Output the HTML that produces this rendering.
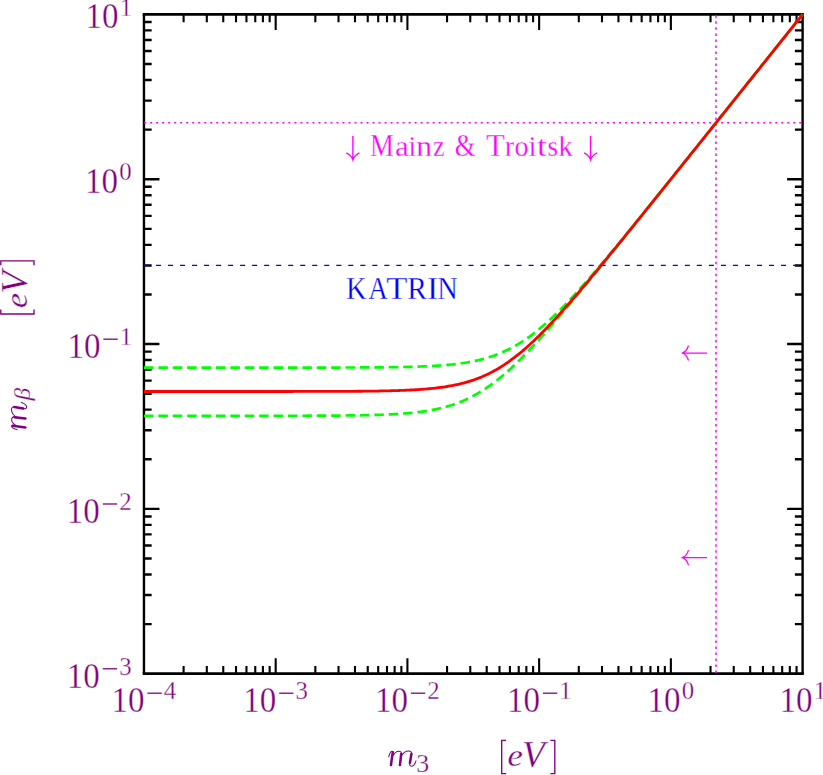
<!DOCTYPE html>
<html><head><meta charset="utf-8"><title>m_beta vs m_3</title>
<style>
html,body{margin:0;padding:0;background:#fff;}
body{width:823px;height:775px;overflow:hidden;}
svg{display:block;}
text{font-family:"Liberation Serif",serif;stroke:#fff;stroke-width:0.3px;}
</style></head><body>
<svg width="823" height="775" viewBox="0 0 823 775">
<rect x="0" y="0" width="823" height="775" fill="#ffffff"/>
<path d="M183.60 673.70V666.00M183.60 14.45V22.15M206.80 673.70V666.00M206.80 14.45V22.15M223.26 673.70V666.00M223.26 14.45V22.15M236.03 673.70V666.00M236.03 14.45V22.15M246.46 673.70V666.00M246.46 14.45V22.15M255.27 673.70V666.00M255.27 14.45V22.15M262.91 673.70V666.00M262.91 14.45V22.15M269.65 673.70V666.00M269.65 14.45V22.15M275.68 673.70V658.20M275.68 14.45V29.95M315.33 673.70V666.00M315.33 14.45V22.15M338.53 673.70V666.00M338.53 14.45V22.15M354.99 673.70V666.00M354.99 14.45V22.15M367.76 673.70V666.00M367.76 14.45V22.15M378.19 673.70V666.00M378.19 14.45V22.15M387.00 673.70V666.00M387.00 14.45V22.15M394.64 673.70V666.00M394.64 14.45V22.15M401.38 673.70V666.00M401.38 14.45V22.15M407.41 673.70V658.20M407.41 14.45V29.95M447.06 673.70V666.00M447.06 14.45V22.15M470.26 673.70V666.00M470.26 14.45V22.15M486.72 673.70V666.00M486.72 14.45V22.15M499.49 673.70V666.00M499.49 14.45V22.15M509.92 673.70V666.00M509.92 14.45V22.15M518.73 673.70V666.00M518.73 14.45V22.15M526.37 673.70V666.00M526.37 14.45V22.15M533.11 673.70V666.00M533.11 14.45V22.15M539.14 673.70V658.20M539.14 14.45V29.95M578.79 673.70V666.00M578.79 14.45V22.15M601.99 673.70V666.00M601.99 14.45V22.15M618.45 673.70V666.00M618.45 14.45V22.15M631.22 673.70V666.00M631.22 14.45V22.15M641.65 673.70V666.00M641.65 14.45V22.15M650.46 673.70V666.00M650.46 14.45V22.15M658.10 673.70V666.00M658.10 14.45V22.15M664.84 673.70V666.00M664.84 14.45V22.15M670.87 673.70V658.20M670.87 14.45V29.95M710.52 673.70V666.00M710.52 14.45V22.15M733.72 673.70V666.00M733.72 14.45V22.15M750.18 673.70V666.00M750.18 14.45V22.15M762.95 673.70V666.00M762.95 14.45V22.15M773.38 673.70V666.00M773.38 14.45V22.15M782.19 673.70V666.00M782.19 14.45V22.15M789.83 673.70V666.00M789.83 14.45V22.15M796.57 673.70V666.00M796.57 14.45V22.15" fill="none" stroke="#000" stroke-width="2.1"/>
<path d="M143.95 624.09H151.65M802.60 624.09H794.90M143.95 595.06H151.65M802.60 595.06H794.90M143.95 574.47H151.65M802.60 574.47H794.90M143.95 558.50H151.65M802.60 558.50H794.90M143.95 545.45H151.65M802.60 545.45H794.90M143.95 534.42H151.65M802.60 534.42H794.90M143.95 524.86H151.65M802.60 524.86H794.90M143.95 516.43H151.65M802.60 516.43H794.90M143.95 508.89H159.45M802.60 508.89H787.10M143.95 459.27H151.65M802.60 459.27H794.90M143.95 430.25H151.65M802.60 430.25H794.90M143.95 409.66H151.65M802.60 409.66H794.90M143.95 393.69H151.65M802.60 393.69H794.90M143.95 380.64H151.65M802.60 380.64H794.90M143.95 369.60H151.65M802.60 369.60H794.90M143.95 360.05H151.65M802.60 360.05H794.90M143.95 351.62H151.65M802.60 351.62H794.90M143.95 344.07H159.45M802.60 344.07H787.10M143.95 294.46H151.65M802.60 294.46H794.90M143.95 265.44H151.65M802.60 265.44H794.90M143.95 244.85H151.65M802.60 244.85H794.90M143.95 228.88H151.65M802.60 228.88H794.90M143.95 215.83H151.65M802.60 215.83H794.90M143.95 204.79H151.65M802.60 204.79H794.90M143.95 195.23H151.65M802.60 195.23H794.90M143.95 186.80H151.65M802.60 186.80H794.90M143.95 179.26H159.45M802.60 179.26H787.10M143.95 129.65H151.65M802.60 129.65H794.90M143.95 100.63H151.65M802.60 100.63H794.90M143.95 80.04H151.65M802.60 80.04H794.90M143.95 64.06H151.65M802.60 64.06H794.90M143.95 51.01H151.65M802.60 51.01H794.90M143.95 39.98H151.65M802.60 39.98H794.90M143.95 30.42H151.65M802.60 30.42H794.90M143.95 21.99H151.65M802.60 21.99H794.90" fill="none" stroke="#000" stroke-width="2.4"/>
<path d="M142.75 14.45H803.80M142.75 673.70H803.80" fill="none" stroke="#000" stroke-width="2.75"/>
<path d="M143.95 14.45V673.70M802.60 14.45V673.70" fill="none" stroke="#000" stroke-width="2.4"/>
<path d="M143.95 122.83H802.60" fill="none" stroke="#ff00ff" stroke-width="1.45" stroke-dasharray="2 4.01" stroke-dashoffset="-0.2"/>
<path d="M715.98 14.45V673.70" fill="none" stroke="#ff00ff" stroke-width="1.5" stroke-dasharray="2.5 3.51" stroke-dashoffset="-0.9"/>
<path d="M143.95 265.44H802.60" fill="none" stroke="#0000ff" stroke-width="1.35" stroke-dasharray="5 7.02"/>
<g fill="none">
<path d="M143.95 367.60 L145.60 367.60 L147.24 367.60 L148.89 367.60 L150.54 367.60 L152.18 367.60 L153.83 367.60 L155.48 367.60 L157.12 367.60 L158.77 367.60 L160.42 367.60 L162.06 367.60 L163.71 367.60 L165.36 367.60 L167.00 367.60 L168.65 367.60 L170.30 367.60 L171.94 367.60 L173.59 367.60 L175.24 367.60 L176.88 367.60 L178.53 367.60 L180.18 367.60 L181.82 367.60 L183.47 367.60 L185.12 367.60 L186.76 367.60 L188.41 367.60 L190.06 367.60 L191.70 367.60 L193.35 367.60 L195.00 367.60 L196.64 367.60 L198.29 367.60 L199.94 367.60 L201.58 367.60 L203.23 367.60 L204.88 367.60 L206.52 367.60 L208.17 367.60 L209.81 367.60 L211.46 367.60 L213.11 367.60 L214.75 367.60 L216.40 367.60 L218.05 367.60 L219.69 367.60 L221.34 367.60 L222.99 367.60 L224.63 367.60 L226.28 367.60 L227.93 367.60 L229.57 367.60 L231.22 367.60 L232.87 367.60 L234.51 367.60 L236.16 367.60 L237.81 367.60 L239.45 367.60 L241.10 367.60 L242.75 367.60 L244.39 367.60 L246.04 367.60 L247.69 367.60 L249.33 367.60 L250.98 367.60 L252.63 367.60 L254.27 367.60 L255.92 367.60 L257.57 367.60 L259.21 367.60 L260.86 367.60 L262.51 367.60 L264.15 367.60 L265.80 367.60 L267.45 367.59 L269.09 367.59 L270.74 367.59 L272.39 367.59 L274.03 367.59 L275.68 367.59 L277.33 367.59 L278.97 367.59 L280.62 367.59 L282.27 367.59 L283.91 367.59 L285.56 367.59 L287.21 367.59 L288.85 367.59 L290.50 367.59 L292.15 367.59 L293.79 367.59 L295.44 367.59 L297.09 367.59 L298.73 367.58 L300.38 367.58 L302.03 367.58 L303.67 367.58 L305.32 367.58 L306.97 367.58 L308.61 367.58 L310.26 367.58 L311.91 367.58 L313.55 367.57 L315.20 367.57 L316.85 367.57 L318.49 367.57 L320.14 367.57 L321.79 367.57 L323.43 367.56 L325.08 367.56 L326.73 367.56 L328.37 367.56 L330.02 367.55 L331.67 367.55 L333.31 367.55 L334.96 367.55 L336.61 367.54 L338.25 367.54 L339.90 367.53 L341.55 367.53 L343.19 367.53 L344.84 367.52 L346.48 367.52 L348.13 367.51 L349.78 367.51 L351.42 367.50 L353.07 367.50 L354.72 367.49 L356.36 367.48 L358.01 367.48 L359.66 367.47 L361.30 367.46 L362.95 367.45 L364.60 367.45 L366.24 367.44 L367.89 367.43 L369.54 367.42 L371.18 367.41 L372.83 367.39 L374.48 367.38 L376.12 367.37 L377.77 367.36 L379.42 367.34 L381.06 367.33 L382.71 367.31 L384.36 367.29 L386.00 367.27 L387.65 367.26 L389.30 367.24 L390.94 367.21 L392.59 367.19 L394.24 367.17 L395.88 367.14 L397.53 367.11 L399.18 367.09 L400.82 367.06 L402.47 367.02 L404.12 366.99 L405.76 366.95 L407.41 366.92 L409.06 366.88 L410.70 366.83 L412.35 366.79 L414.00 366.74 L415.64 366.69 L417.29 366.64 L418.94 366.58 L420.58 366.52 L422.23 366.46 L423.88 366.39 L425.52 366.32 L427.17 366.25 L428.82 366.17 L430.46 366.09 L432.11 366.00 L433.76 365.91 L435.40 365.81 L437.05 365.70 L438.70 365.60 L440.34 365.48 L441.99 365.36 L443.64 365.23 L445.28 365.09 L446.93 364.95 L448.58 364.80 L450.22 364.64 L451.87 364.47 L453.52 364.30 L455.16 364.11 L456.81 363.91 L458.46 363.71 L460.10 363.49 L461.75 363.26 L463.40 363.02 L465.04 362.76 L466.69 362.50 L468.34 362.22 L469.98 361.92 L471.63 361.61 L473.28 361.29 L474.92 360.94 L476.57 360.59 L478.21 360.21 L479.86 359.82 L481.51 359.41 L483.15 358.97 L484.80 358.52 L486.45 358.05 L488.09 357.56 L489.74 357.04 L491.39 356.50 L493.03 355.94 L494.68 355.36 L496.33 354.75 L497.97 354.12 L499.62 353.46 L501.27 352.77 L502.91 352.06 L504.56 351.32 L506.21 350.55 L507.85 349.76 L509.50 348.93 L511.15 348.08 L512.79 347.20 L514.44 346.29 L516.09 345.35 L517.73 344.38 L519.38 343.39 L521.03 342.36 L522.67 341.30 L524.32 340.21 L525.97 339.10 L527.61 337.95 L529.26 336.78 L530.91 335.57 L532.55 334.34 L534.20 333.08 L535.85 331.79 L537.49 330.48 L539.14 329.13 L540.79 327.76 L542.43 326.37 L544.08 324.94 L545.73 323.50 L547.37 322.02 L549.02 320.53 L550.67 319.01 L552.31 317.47 L553.96 315.91 L555.61 314.32 L557.25 312.72 L558.90 311.09 L560.55 309.44 L562.19 307.78 L563.84 306.10 L565.49 304.40 L567.13 302.68 L568.78 300.95 L570.43 299.20 L572.07 297.44 L573.72 295.66 L575.37 293.87 L577.01 292.07 L578.66 290.25 L580.31 288.42 L581.95 286.58 L583.60 284.73 L585.25 282.87 L586.89 281.00 L588.54 279.12 L590.19 277.22 L591.83 275.33 L593.48 273.42 L595.13 271.50 L596.77 269.58 L598.42 267.65 L600.07 265.71 L601.71 263.77 L603.36 261.82 L605.01 259.86 L606.65 257.90 L608.30 255.93 L609.94 253.96 L611.59 251.98 L613.24 250.00 L614.88 248.02 L616.53 246.03 L618.18 244.04 L619.82 242.04 L621.47 240.04 L623.12 238.04 L624.76 236.03 L626.41 234.02 L628.06 232.01 L629.70 229.99 L631.35 227.98 L633.00 225.96 L634.64 223.93 L636.29 221.91 L637.94 219.88 L639.58 217.86 L641.23 215.83 L642.88 213.80 L644.52 211.76 L646.17 209.73 L647.82 207.69 L649.46 205.65 L651.11 203.62 L652.76 201.58 L654.40 199.54 L656.05 197.49 L657.70 195.45 L659.34 193.41 L660.99 191.36 L662.64 189.32 L664.28 187.27 L665.93 185.22 L667.58 183.18 L669.22 181.13 L670.87 179.08 L672.52 177.03 L674.16 174.98 L675.81 172.93 L677.46 170.87 L679.10 168.82 L680.75 166.77 L682.40 164.72 L684.04 162.66 L685.69 160.61 L687.34 158.56 L688.98 156.50 L690.63 154.45 L692.28 152.39 L693.92 150.34 L695.57 148.28 L697.22 146.23 L698.86 144.17 L700.51 142.11 L702.16 140.06 L703.80 138.00 L705.45 135.94 L707.10 133.89 L708.74 131.83 L710.39 129.77 L712.04 127.71 L713.68 125.66 L715.33 123.60 L716.98 121.54 L718.62 119.48 L720.27 117.42 L721.92 115.37 L723.56 113.31 L725.21 111.25 L726.86 109.19 L728.50 107.13 L730.15 105.07 L731.80 103.01 L733.44 100.96 L735.09 98.90 L736.74 96.84 L738.38 94.78 L740.03 92.72 L741.67 90.66 L743.32 88.60 L744.97 86.54 L746.61 84.48 L748.26 82.42 L749.91 80.36 L751.55 78.30 L753.20 76.24 L754.85 74.18 L756.49 72.13 L758.14 70.07 L759.79 68.01 L761.43 65.95 L763.08 63.89 L764.73 61.83 L766.37 59.77 L768.02 57.71 L769.67 55.65 L771.31 53.59 L772.96 51.53 L774.61 49.47 L776.25 47.41 L777.90 45.35 L779.55 43.29 L781.19 41.23 L782.84 39.17 L784.49 37.11 L786.13 35.05 L787.78 32.99 L789.43 30.93 L791.07 28.87 L792.72 26.81 L794.37 24.75 L796.01 22.69 L797.66 20.63 L799.31 18.57 L800.95 16.51 L802.60 14.45" stroke="#00ff00" stroke-width="2.7" stroke-dasharray="9.5 4.9"/>
<path d="M143.95 415.80 L145.60 415.80 L147.24 415.80 L148.89 415.80 L150.54 415.80 L152.18 415.80 L153.83 415.80 L155.48 415.80 L157.12 415.80 L158.77 415.80 L160.42 415.80 L162.06 415.80 L163.71 415.80 L165.36 415.80 L167.00 415.80 L168.65 415.80 L170.30 415.80 L171.94 415.80 L173.59 415.80 L175.24 415.80 L176.88 415.80 L178.53 415.80 L180.18 415.80 L181.82 415.80 L183.47 415.80 L185.12 415.80 L186.76 415.80 L188.41 415.80 L190.06 415.80 L191.70 415.80 L193.35 415.80 L195.00 415.80 L196.64 415.80 L198.29 415.80 L199.94 415.80 L201.58 415.80 L203.23 415.80 L204.88 415.80 L206.52 415.80 L208.17 415.80 L209.81 415.80 L211.46 415.80 L213.11 415.80 L214.75 415.80 L216.40 415.80 L218.05 415.80 L219.69 415.80 L221.34 415.80 L222.99 415.80 L224.63 415.80 L226.28 415.80 L227.93 415.79 L229.57 415.79 L231.22 415.79 L232.87 415.79 L234.51 415.79 L236.16 415.79 L237.81 415.79 L239.45 415.79 L241.10 415.79 L242.75 415.79 L244.39 415.79 L246.04 415.79 L247.69 415.79 L249.33 415.79 L250.98 415.79 L252.63 415.79 L254.27 415.79 L255.92 415.79 L257.57 415.79 L259.21 415.79 L260.86 415.78 L262.51 415.78 L264.15 415.78 L265.80 415.78 L267.45 415.78 L269.09 415.78 L270.74 415.78 L272.39 415.78 L274.03 415.77 L275.68 415.77 L277.33 415.77 L278.97 415.77 L280.62 415.77 L282.27 415.77 L283.91 415.76 L285.56 415.76 L287.21 415.76 L288.85 415.76 L290.50 415.76 L292.15 415.75 L293.79 415.75 L295.44 415.75 L297.09 415.74 L298.73 415.74 L300.38 415.74 L302.03 415.73 L303.67 415.73 L305.32 415.73 L306.97 415.72 L308.61 415.72 L310.26 415.71 L311.91 415.71 L313.55 415.70 L315.20 415.69 L316.85 415.69 L318.49 415.68 L320.14 415.67 L321.79 415.67 L323.43 415.66 L325.08 415.65 L326.73 415.64 L328.37 415.63 L330.02 415.62 L331.67 415.61 L333.31 415.60 L334.96 415.59 L336.61 415.58 L338.25 415.56 L339.90 415.55 L341.55 415.54 L343.19 415.52 L344.84 415.50 L346.48 415.49 L348.13 415.47 L349.78 415.45 L351.42 415.43 L353.07 415.40 L354.72 415.38 L356.36 415.36 L358.01 415.33 L359.66 415.30 L361.30 415.27 L362.95 415.24 L364.60 415.21 L366.24 415.18 L367.89 415.14 L369.54 415.10 L371.18 415.06 L372.83 415.02 L374.48 414.97 L376.12 414.92 L377.77 414.87 L379.42 414.82 L381.06 414.76 L382.71 414.70 L384.36 414.63 L386.00 414.57 L387.65 414.49 L389.30 414.42 L390.94 414.34 L392.59 414.25 L394.24 414.16 L395.88 414.07 L397.53 413.97 L399.18 413.86 L400.82 413.75 L402.47 413.63 L404.12 413.51 L405.76 413.38 L407.41 413.24 L409.06 413.09 L410.70 412.94 L412.35 412.78 L414.00 412.60 L415.64 412.42 L417.29 412.23 L418.94 412.03 L420.58 411.82 L422.23 411.60 L423.88 411.36 L425.52 411.12 L427.17 410.86 L428.82 410.59 L430.46 410.30 L432.11 410.00 L433.76 409.68 L435.40 409.35 L437.05 409.00 L438.70 408.64 L440.34 408.26 L441.99 407.86 L443.64 407.44 L445.28 407.00 L446.93 406.54 L448.58 406.06 L450.22 405.56 L451.87 405.03 L453.52 404.48 L455.16 403.91 L456.81 403.32 L458.46 402.70 L460.10 402.06 L461.75 401.39 L463.40 400.69 L465.04 399.97 L466.69 399.22 L468.34 398.44 L469.98 397.63 L471.63 396.80 L473.28 395.94 L474.92 395.04 L476.57 394.12 L478.21 393.17 L479.86 392.19 L481.51 391.18 L483.15 390.14 L484.80 389.07 L486.45 387.98 L488.09 386.85 L489.74 385.69 L491.39 384.50 L493.03 383.29 L494.68 382.04 L496.33 380.77 L497.97 379.47 L499.62 378.15 L501.27 376.79 L502.91 375.41 L504.56 374.00 L506.21 372.57 L507.85 371.12 L509.50 369.63 L511.15 368.13 L512.79 366.60 L514.44 365.05 L516.09 363.48 L517.73 361.89 L519.38 360.27 L521.03 358.64 L522.67 356.99 L524.32 355.32 L525.97 353.63 L527.61 351.92 L529.26 350.20 L530.91 348.46 L532.55 346.71 L534.20 344.94 L535.85 343.16 L537.49 341.36 L539.14 339.55 L540.79 337.73 L542.43 335.89 L544.08 334.05 L545.73 332.19 L547.37 330.33 L549.02 328.45 L550.67 326.57 L552.31 324.67 L553.96 322.77 L555.61 320.86 L557.25 318.94 L558.90 317.01 L560.55 315.08 L562.19 313.14 L563.84 311.19 L565.49 309.24 L567.13 307.28 L568.78 305.32 L570.43 303.35 L572.07 301.38 L573.72 299.40 L575.37 297.42 L577.01 295.43 L578.66 293.44 L580.31 291.45 L581.95 289.45 L583.60 287.45 L585.25 285.44 L586.89 283.43 L588.54 281.42 L590.19 279.41 L591.83 277.39 L593.48 275.38 L595.13 273.35 L596.77 271.33 L598.42 269.31 L600.07 267.28 L601.71 265.25 L603.36 263.22 L605.01 261.19 L606.65 259.16 L608.30 257.12 L609.94 255.08 L611.59 253.05 L613.24 251.01 L614.88 248.97 L616.53 246.93 L618.18 244.88 L619.82 242.84 L621.47 240.80 L623.12 238.75 L624.76 236.71 L626.41 234.66 L628.06 232.61 L629.70 230.56 L631.35 228.51 L633.00 226.47 L634.64 224.42 L636.29 222.36 L637.94 220.31 L639.58 218.26 L641.23 216.21 L642.88 214.16 L644.52 212.10 L646.17 210.05 L647.82 208.00 L649.46 205.94 L651.11 203.89 L652.76 201.83 L654.40 199.78 L656.05 197.72 L657.70 195.67 L659.34 193.61 L660.99 191.56 L662.64 189.50 L664.28 187.44 L665.93 185.39 L667.58 183.33 L669.22 181.27 L670.87 179.21 L672.52 177.16 L674.16 175.10 L675.81 173.04 L677.46 170.98 L679.10 168.93 L680.75 166.87 L682.40 164.81 L684.04 162.75 L685.69 160.69 L687.34 158.63 L688.98 156.58 L690.63 154.52 L692.28 152.46 L693.92 150.40 L695.57 148.34 L697.22 146.28 L698.86 144.22 L700.51 142.16 L702.16 140.10 L703.80 138.04 L705.45 135.98 L707.10 133.93 L708.74 131.87 L710.39 129.81 L712.04 127.75 L713.68 125.69 L715.33 123.63 L716.98 121.57 L718.62 119.51 L720.27 117.45 L721.92 115.39 L723.56 113.33 L725.21 111.27 L726.86 109.21 L728.50 107.15 L730.15 105.09 L731.80 103.03 L733.44 100.97 L735.09 98.91 L736.74 96.85 L738.38 94.79 L740.03 92.73 L741.67 90.67 L743.32 88.61 L744.97 86.55 L746.61 84.49 L748.26 82.43 L749.91 80.37 L751.55 78.31 L753.20 76.25 L754.85 74.19 L756.49 72.13 L758.14 70.07 L759.79 68.01 L761.43 65.95 L763.08 63.89 L764.73 61.83 L766.37 59.77 L768.02 57.71 L769.67 55.65 L771.31 53.59 L772.96 51.53 L774.61 49.47 L776.25 47.41 L777.90 45.35 L779.55 43.29 L781.19 41.23 L782.84 39.17 L784.49 37.11 L786.13 35.05 L787.78 32.99 L789.43 30.93 L791.07 28.87 L792.72 26.81 L794.37 24.75 L796.01 22.69 L797.66 20.63 L799.31 18.57 L800.95 16.51 L802.60 14.45" stroke="#00ff00" stroke-width="2.7" stroke-dasharray="9.5 4.9"/>
<path d="M143.95 391.50 L145.60 391.50 L147.24 391.50 L148.89 391.50 L150.54 391.50 L152.18 391.50 L153.83 391.50 L155.48 391.50 L157.12 391.50 L158.77 391.50 L160.42 391.50 L162.06 391.50 L163.71 391.50 L165.36 391.50 L167.00 391.50 L168.65 391.50 L170.30 391.50 L171.94 391.50 L173.59 391.50 L175.24 391.50 L176.88 391.50 L178.53 391.50 L180.18 391.50 L181.82 391.50 L183.47 391.50 L185.12 391.50 L186.76 391.50 L188.41 391.50 L190.06 391.50 L191.70 391.50 L193.35 391.50 L195.00 391.50 L196.64 391.50 L198.29 391.50 L199.94 391.50 L201.58 391.50 L203.23 391.50 L204.88 391.50 L206.52 391.50 L208.17 391.50 L209.81 391.50 L211.46 391.50 L213.11 391.50 L214.75 391.50 L216.40 391.50 L218.05 391.50 L219.69 391.50 L221.34 391.50 L222.99 391.50 L224.63 391.50 L226.28 391.50 L227.93 391.50 L229.57 391.50 L231.22 391.50 L232.87 391.50 L234.51 391.50 L236.16 391.50 L237.81 391.50 L239.45 391.50 L241.10 391.50 L242.75 391.50 L244.39 391.50 L246.04 391.50 L247.69 391.49 L249.33 391.49 L250.98 391.49 L252.63 391.49 L254.27 391.49 L255.92 391.49 L257.57 391.49 L259.21 391.49 L260.86 391.49 L262.51 391.49 L264.15 391.49 L265.80 391.49 L267.45 391.49 L269.09 391.49 L270.74 391.49 L272.39 391.49 L274.03 391.49 L275.68 391.49 L277.33 391.49 L278.97 391.48 L280.62 391.48 L282.27 391.48 L283.91 391.48 L285.56 391.48 L287.21 391.48 L288.85 391.48 L290.50 391.48 L292.15 391.48 L293.79 391.47 L295.44 391.47 L297.09 391.47 L298.73 391.47 L300.38 391.47 L302.03 391.47 L303.67 391.46 L305.32 391.46 L306.97 391.46 L308.61 391.46 L310.26 391.45 L311.91 391.45 L313.55 391.45 L315.20 391.45 L316.85 391.44 L318.49 391.44 L320.14 391.44 L321.79 391.43 L323.43 391.43 L325.08 391.42 L326.73 391.42 L328.37 391.42 L330.02 391.41 L331.67 391.40 L333.31 391.40 L334.96 391.39 L336.61 391.39 L338.25 391.38 L339.90 391.37 L341.55 391.37 L343.19 391.36 L344.84 391.35 L346.48 391.34 L348.13 391.33 L349.78 391.32 L351.42 391.31 L353.07 391.30 L354.72 391.29 L356.36 391.27 L358.01 391.26 L359.66 391.25 L361.30 391.23 L362.95 391.22 L364.60 391.20 L366.24 391.18 L367.89 391.16 L369.54 391.14 L371.18 391.12 L372.83 391.10 L374.48 391.08 L376.12 391.05 L377.77 391.03 L379.42 391.00 L381.06 390.97 L382.71 390.94 L384.36 390.90 L386.00 390.87 L387.65 390.83 L389.30 390.79 L390.94 390.75 L392.59 390.71 L394.24 390.66 L395.88 390.61 L397.53 390.56 L399.18 390.50 L400.82 390.45 L402.47 390.38 L404.12 390.32 L405.76 390.25 L407.41 390.18 L409.06 390.10 L410.70 390.02 L412.35 389.93 L414.00 389.84 L415.64 389.75 L417.29 389.65 L418.94 389.54 L420.58 389.43 L422.23 389.31 L423.88 389.18 L425.52 389.05 L427.17 388.91 L428.82 388.76 L430.46 388.61 L432.11 388.44 L433.76 388.27 L435.40 388.09 L437.05 387.89 L438.70 387.69 L440.34 387.48 L441.99 387.25 L443.64 387.02 L445.28 386.77 L446.93 386.50 L448.58 386.23 L450.22 385.94 L451.87 385.64 L453.52 385.32 L455.16 384.98 L456.81 384.63 L458.46 384.26 L460.10 383.88 L461.75 383.47 L463.40 383.05 L465.04 382.60 L466.69 382.14 L468.34 381.66 L469.98 381.15 L471.63 380.62 L473.28 380.07 L474.92 379.49 L476.57 378.90 L478.21 378.27 L479.86 377.62 L481.51 376.95 L483.15 376.25 L484.80 375.52 L486.45 374.76 L488.09 373.98 L489.74 373.17 L491.39 372.33 L493.03 371.46 L494.68 370.56 L496.33 369.63 L497.97 368.67 L499.62 367.69 L501.27 366.67 L502.91 365.63 L504.56 364.55 L506.21 363.45 L507.85 362.31 L509.50 361.15 L511.15 359.96 L512.79 358.74 L514.44 357.49 L516.09 356.21 L517.73 354.90 L519.38 353.57 L521.03 352.21 L522.67 350.83 L524.32 349.41 L525.97 347.98 L527.61 346.51 L529.26 345.03 L530.91 343.52 L532.55 341.99 L534.20 340.43 L535.85 338.86 L537.49 337.26 L539.14 335.64 L540.79 334.00 L542.43 332.35 L544.08 330.67 L545.73 328.98 L547.37 327.27 L549.02 325.54 L550.67 323.80 L552.31 322.05 L553.96 320.27 L555.61 318.49 L557.25 316.69 L558.90 314.88 L560.55 313.05 L562.19 311.22 L563.84 309.37 L565.49 307.51 L567.13 305.65 L568.78 303.77 L570.43 301.88 L572.07 299.98 L573.72 298.08 L575.37 296.17 L577.01 294.25 L578.66 292.32 L580.31 290.38 L581.95 288.44 L583.60 286.49 L585.25 284.54 L586.89 282.58 L588.54 280.62 L590.19 278.65 L591.83 276.67 L593.48 274.69 L595.13 272.71 L596.77 270.72 L598.42 268.73 L600.07 266.74 L601.71 264.74 L603.36 262.74 L605.01 260.73 L606.65 258.72 L608.30 256.71 L609.94 254.70 L611.59 252.68 L613.24 250.66 L614.88 248.64 L616.53 246.62 L618.18 244.59 L619.82 242.57 L621.47 240.54 L623.12 238.51 L624.76 236.47 L626.41 234.44 L628.06 232.40 L629.70 230.37 L631.35 228.33 L633.00 226.29 L634.64 224.25 L636.29 222.21 L637.94 220.17 L639.58 218.12 L641.23 216.08 L642.88 214.03 L644.52 211.99 L646.17 209.94 L647.82 207.89 L649.46 205.84 L651.11 203.80 L652.76 201.75 L654.40 199.70 L656.05 197.64 L657.70 195.59 L659.34 193.54 L660.99 191.49 L662.64 189.44 L664.28 187.38 L665.93 185.33 L667.58 183.28 L669.22 181.22 L670.87 179.17 L672.52 177.11 L674.16 175.06 L675.81 173.00 L677.46 170.95 L679.10 168.89 L680.75 166.83 L682.40 164.78 L684.04 162.72 L685.69 160.66 L687.34 158.61 L688.98 156.55 L690.63 154.49 L692.28 152.44 L693.92 150.38 L695.57 148.32 L697.22 146.26 L698.86 144.20 L700.51 142.15 L702.16 140.09 L703.80 138.03 L705.45 135.97 L707.10 133.91 L708.74 131.85 L710.39 129.79 L712.04 127.74 L713.68 125.68 L715.33 123.62 L716.98 121.56 L718.62 119.50 L720.27 117.44 L721.92 115.38 L723.56 113.32 L725.21 111.26 L726.86 109.20 L728.50 107.14 L730.15 105.08 L731.80 103.03 L733.44 100.97 L735.09 98.91 L736.74 96.85 L738.38 94.79 L740.03 92.73 L741.67 90.67 L743.32 88.61 L744.97 86.55 L746.61 84.49 L748.26 82.43 L749.91 80.37 L751.55 78.31 L753.20 76.25 L754.85 74.19 L756.49 72.13 L758.14 70.07 L759.79 68.01 L761.43 65.95 L763.08 63.89 L764.73 61.83 L766.37 59.77 L768.02 57.71 L769.67 55.65 L771.31 53.59 L772.96 51.53 L774.61 49.47 L776.25 47.41 L777.90 45.35 L779.55 43.29 L781.19 41.23 L782.84 39.17 L784.49 37.11 L786.13 35.05 L787.78 32.99 L789.43 30.93 L791.07 28.87 L792.72 26.81 L794.37 24.75 L796.01 22.69 L797.66 20.63 L799.31 18.57 L800.95 16.51 L802.60 14.45" stroke="#ff0000" stroke-width="2.8"/>
</g>
<text x="66.80" y="687.70" font-size="35.5" fill="#800080" textLength="33" lengthAdjust="spacingAndGlyphs">10</text><path d="M102.80 668.80h14.3" stroke="#800080" stroke-width="1.3" fill="none"/><text x="119.20" y="674.80" font-size="24.8" fill="#800080">3</text>
<text x="66.80" y="522.89" font-size="35.5" fill="#800080" textLength="33" lengthAdjust="spacingAndGlyphs">10</text><path d="M102.80 503.99h14.3" stroke="#800080" stroke-width="1.3" fill="none"/><text x="119.20" y="509.99" font-size="24.8" fill="#800080">2</text>
<text x="67.40" y="358.07" font-size="35.5" fill="#800080" textLength="33" lengthAdjust="spacingAndGlyphs">10</text><path d="M103.40 339.18h14.3" stroke="#800080" stroke-width="1.3" fill="none"/><text x="119.80" y="345.18" font-size="24.8" fill="#800080">1</text>
<text x="85.00" y="193.26" font-size="35.5" fill="#800080" textLength="33" lengthAdjust="spacingAndGlyphs">10</text><text x="119.20" y="180.36" font-size="24.8" fill="#800080">0</text>
<text x="85.60" y="28.45" font-size="35.5" fill="#800080" textLength="33" lengthAdjust="spacingAndGlyphs">10</text><text x="119.80" y="15.55" font-size="24.8" fill="#800080">1</text>
<text x="111.45" y="712.10" font-size="35.5" fill="#800080" textLength="33" lengthAdjust="spacingAndGlyphs">10</text><path d="M147.45 693.20h14.3" stroke="#800080" stroke-width="1.3" fill="none"/><text x="163.85" y="699.20" font-size="24.8" fill="#800080">4</text>
<text x="243.18" y="712.10" font-size="35.5" fill="#800080" textLength="33" lengthAdjust="spacingAndGlyphs">10</text><path d="M279.18 693.20h14.3" stroke="#800080" stroke-width="1.3" fill="none"/><text x="295.58" y="699.20" font-size="24.8" fill="#800080">3</text>
<text x="374.91" y="712.10" font-size="35.5" fill="#800080" textLength="33" lengthAdjust="spacingAndGlyphs">10</text><path d="M410.91 693.20h14.3" stroke="#800080" stroke-width="1.3" fill="none"/><text x="427.31" y="699.20" font-size="24.8" fill="#800080">2</text>
<text x="506.94" y="712.10" font-size="35.5" fill="#800080" textLength="33" lengthAdjust="spacingAndGlyphs">10</text><path d="M542.94 693.20h14.3" stroke="#800080" stroke-width="1.3" fill="none"/><text x="559.34" y="699.20" font-size="24.8" fill="#800080">1</text>
<text x="647.47" y="712.10" font-size="35.5" fill="#800080" textLength="33" lengthAdjust="spacingAndGlyphs">10</text><text x="681.67" y="699.20" font-size="24.8" fill="#800080">0</text>
<text x="779.50" y="712.10" font-size="35.5" fill="#800080" textLength="33" lengthAdjust="spacingAndGlyphs">10</text><text x="813.70" y="699.20" font-size="24.8" fill="#800080">1</text>
<g transform="translate(388.2,765.6)"><g transform="translate(0,0.6)" fill="none" stroke="#800080" stroke-linecap="round" stroke-linejoin="round"><path stroke-width="2.5" d="M4.55 -14.0L2.75 -1.1M13.0 -12.2L11.75 -1.1M23.2 -12.2L21.75 -3.4"/><path stroke-width="1.05" d="M0.5 -9.4C1.4 -12.6 2.5 -14.9 3.7 -14.9C4.5 -14.9 4.9 -14.4 4.9 -13.6M4.1 -9.6C6.0 -13.0 8.3 -15.0 10.4 -15.0C12.3 -15.0 13.4 -14.0 13.3 -12.2M12.7 -9.6C14.9 -13.3 17.8 -15.1 20.4 -15.1C22.6 -15.1 23.6 -14.0 23.5 -12.2M21.5 -3.4C21.1 -1.2 21.8 0.0 23.3 0.0C25.2 0.0 26.9 -2.4 27.8 -5.3"/></g><text transform="translate(28.16,6.50) scale(0.996,1)" font-size="26.0" fill="#800080">3</text><path d="M117.90 -25.2h-4.4v33.2h4.4" fill="none" stroke="#800080" stroke-width="1.35"/><text transform="translate(119.24,0.60) scale(1.097,1)" font-size="31.5" font-style="italic" fill="#800080">e</text><text transform="translate(133.85,1.30) scale(0.994,1)" font-size="37.5" font-style="italic" fill="#800080">V</text><path d="M162.20 -25.2h4.4v33.2h-4.4" fill="none" stroke="#800080" stroke-width="1.35"/></g>
<g transform="translate(26.0,430.2) rotate(-90)"><g transform="translate(0,0.6)" fill="none" stroke="#800080" stroke-linecap="round" stroke-linejoin="round"><path stroke-width="2.5" d="M4.55 -14.0L2.75 -1.1M13.0 -12.2L11.75 -1.1M23.2 -12.2L21.75 -3.4"/><path stroke-width="1.05" d="M0.5 -9.4C1.4 -12.6 2.5 -14.9 3.7 -14.9C4.5 -14.9 4.9 -14.4 4.9 -13.6M4.1 -9.6C6.0 -13.0 8.3 -15.0 10.4 -15.0C12.3 -15.0 13.4 -14.0 13.3 -12.2M12.7 -9.6C14.9 -13.3 17.8 -15.1 20.4 -15.1C22.6 -15.1 23.6 -14.0 23.5 -12.2M21.5 -3.4C21.1 -1.2 21.8 0.0 23.3 0.0C25.2 0.0 26.9 -2.4 27.8 -5.3"/></g><text transform="translate(29.81,4.30) scale(1.073,1)" font-size="24.0" font-style="italic" fill="#800080">β</text><path d="M120.60 -25.2h-4.4v33.2h4.4" fill="none" stroke="#800080" stroke-width="1.35"/><text transform="translate(121.94,0.60) scale(1.097,1)" font-size="31.5" font-style="italic" fill="#800080">e</text><text transform="translate(136.55,1.30) scale(0.994,1)" font-size="37.5" font-style="italic" fill="#800080">V</text><path d="M164.90 -25.2h4.4v33.2h-4.4" fill="none" stroke="#800080" stroke-width="1.35"/></g>
<path d="M352.90 136.00V160.20 M346.30 152.80Q351.40 155.20 352.90 159.90Q354.40 155.20 359.50 152.80" fill="none" stroke="#ff00ff" stroke-width="1.4"/>
<path d="M590.60 136.00V160.20 M584.00 152.80Q589.10 155.20 590.60 159.90Q592.10 155.20 597.20 152.80" fill="none" stroke="#ff00ff" stroke-width="1.4"/>
<text transform="translate(370.02,156.00) scale(0.875,1)" font-size="30.8" fill="#ff00ff">M</text>
<text transform="translate(394.91,156.00) scale(1.089,1)" font-size="28.6" fill="#ff00ff">a</text>
<text transform="translate(408.53,156.00) scale(0.941,1)" font-size="28.6" fill="#ff00ff">i</text>
<text transform="translate(416.06,156.00) scale(1.128,1)" font-size="28.6" fill="#ff00ff">n</text>
<text transform="translate(433.10,156.00) scale(0.916,1)" font-size="28.6" fill="#ff00ff">z</text>
<text transform="translate(454.78,156.00) scale(0.849,1)" font-size="31.5" fill="#ff00ff">&amp;</text>
<text transform="translate(486.04,156.00) scale(1.003,1)" font-size="30.8" fill="#ff00ff">T</text>
<text transform="translate(504.73,156.00) scale(0.988,1)" font-size="28.6" fill="#ff00ff">r</text>
<text transform="translate(514.43,156.00) scale(0.982,1)" font-size="28.6" fill="#ff00ff">o</text>
<text transform="translate(528.50,156.00) scale(1.000,1)" font-size="28.6" fill="#ff00ff">i</text>
<text transform="translate(536.84,156.00) scale(1.307,1)" font-size="28.6" fill="#ff00ff">t</text>
<text transform="translate(547.58,156.00) scale(0.953,1)" font-size="28.6" fill="#ff00ff">s</text>
<text transform="translate(558.35,156.00) scale(1.018,1)" font-size="28.6" fill="#ff00ff">k</text>
<text transform="translate(345.97,299.10) scale(0.932,1)" font-size="30.8" fill="#0000ff">K</text>
<text transform="translate(368.24,299.10) scale(0.880,1)" font-size="30.8" fill="#0000ff">A</text>
<text transform="translate(386.17,299.10) scale(1.127,1)" font-size="30.8" fill="#0000ff">T</text>
<text transform="translate(407.35,299.10) scale(0.959,1)" font-size="30.8" fill="#0000ff">R</text>
<text transform="translate(426.89,299.10) scale(1.092,1)" font-size="30.8" fill="#0000ff">I</text>
<text transform="translate(437.18,299.10) scale(0.925,1)" font-size="30.8" fill="#0000ff">N</text>
<path d="M707.00 353.00H682.10 M688.50 345.50Q686.70 351.40 682.40 353.00Q686.70 354.60 688.50 360.50" fill="none" stroke="#ff00ff" stroke-width="1.25"/>
<path d="M707.00 557.60H682.10 M688.50 550.10Q686.70 556.00 682.40 557.60Q686.70 559.20 688.50 565.10" fill="none" stroke="#ff00ff" stroke-width="1.25"/>
</svg>
</body></html>
